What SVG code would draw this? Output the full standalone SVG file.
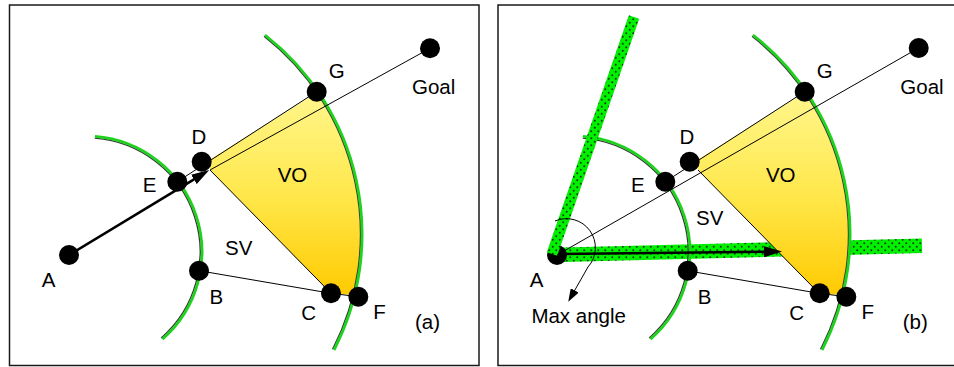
<svg xmlns="http://www.w3.org/2000/svg" width="954" height="367" viewBox="0 0 954 367">
<style>
.frame{fill:none;stroke:#1a1a1a;stroke-width:1.5}
.dot{fill:#000}
.lbl{font-family:"Liberation Sans",Arial,sans-serif;font-size:20.5px;fill:#000;text-anchor:middle}
.lbls{font-family:"Liberation Sans",Arial,sans-serif;font-size:20.5px;fill:#000}
.thin{stroke:#000;stroke-width:1;fill:none}
.arcg{fill:none;stroke:#1ed21e;stroke-width:2.8}
.arcs{fill:none;stroke:#3a3a3a;stroke-width:1.4}
.vo{fill:url(#voGrad)}
.band{fill:none;stroke:url(#dots)}
.arrow{stroke:#000;stroke-width:2.6;fill:none;marker-end:url(#head)}
</style>
<defs>
<linearGradient id="voGrad" gradientUnits="userSpaceOnUse" x1="0" y1="92" x2="0" y2="296">
<stop offset="0" stop-color="#FFF68C"/>
<stop offset="0.5" stop-color="#FFE84C"/>
<stop offset="1" stop-color="#FFCA00"/>
</linearGradient>
<pattern id="dots" width="7" height="7" patternUnits="userSpaceOnUse">
<rect width="7" height="7" fill="#00f000"/>
<circle cx="1.75" cy="1.75" r="1" fill="#0b3b0b"/>
<circle cx="5.25" cy="5.25" r="1" fill="#0b3b0b"/>
</pattern>
<marker id="head" markerUnits="userSpaceOnUse" markerWidth="18" markerHeight="11" refX="4" refY="5.5" orient="auto">
<path d="M0,0 L18,5.5 L0,11 Z" fill="#000"/>
</marker>
<marker id="headS" markerUnits="userSpaceOnUse" markerWidth="13" markerHeight="9" refX="3" refY="4.5" orient="auto">
<path d="M0,0 L13,4.5 L0,9 Z" fill="#000"/>
</marker>
</defs>
<rect x="0" y="0" width="954" height="367" fill="#fff"/>

<!-- Panel (a) -->
<g id="panel-a">
<rect class="frame" x="9.5" y="5" width="469.5" height="360.5"/>
<path id="a-VO-region" class="vo" d="M210,159.5 L318,91.7 A252.9,252.9 0 0 1 354.7,295 L331,293.3 L210,170 Z"/>
<g id="a-arcs">
<path class="arcs" d="M94.76,138.14 A114.2,114.2 0 0 1 161.22,337.92"/>
<path class="arcg" d="M94.9,136.34 A116,116 0 0 1 162.41,339.28"/>
<path class="arcs" d="M264.02,36.25 A251.3,251.3 0 0 1 332.61,349.27"/>
<path class="arcg" d="M265,35 A252.9,252.9 0 0 1 334.03,350"/>
</g>
<g id="a-connectors">
<line class="thin" x1="177.3" y1="181.7" x2="316.7" y2="91.7"/>
<line class="thin" x1="210" y1="170" x2="331" y2="293.3"/>
<line class="thin" x1="199" y1="270.7" x2="331" y2="293.3"/>
<line class="thin" x1="331" y1="293.3" x2="358.3" y2="296.7"/>
<line class="thin" x1="210" y1="170" x2="430" y2="48.3"/>
<line class="arrow" x1="69" y1="255" x2="197.3" y2="177.3"/>
</g>
<g id="a-A"><circle class="dot" cx="69" cy="255" r="10"/><text class="lbl" x="48.7" y="287.3">A</text></g>
<g id="a-E"><circle class="dot" cx="177.3" cy="181.7" r="10"/><text class="lbl" x="149.5" y="191.7">E</text></g>
<g id="a-D"><circle class="dot" cx="201.7" cy="161.7" r="10"/><text class="lbl" x="199" y="144.3">D</text></g>
<g id="a-G"><circle class="dot" cx="316.7" cy="91.7" r="10"/><text class="lbl" x="336.8" y="77.7">G</text></g>
<g id="a-Goal"><circle class="dot" cx="430" cy="48.3" r="10"/><text class="lbls" x="412" y="94">Goal</text></g>
<g id="a-B"><circle class="dot" cx="199" cy="270.7" r="10"/><text class="lbl" x="216.3" y="304">B</text></g>
<g id="a-C"><circle class="dot" cx="331" cy="293.3" r="10"/><text class="lbl" x="308.7" y="320">C</text></g>
<g id="a-F"><circle class="dot" cx="358.3" cy="296.7" r="10"/><text class="lbl" x="379.5" y="319.3">F</text></g>
<text class="lbl" x="292.5" y="181.7">VO</text>
<text class="lbl" x="238.7" y="255">SV</text>
<text class="lbl" x="427.5" y="329">(a)</text>
</g>

<!-- Panel (b) -->
<g id="panel-b" transform="translate(488,0)">
<rect class="frame" x="10" y="5" width="470" height="360.5"/>
<line id="b-band-right" class="band" stroke-width="14.5" x1="75" y1="254.8" x2="434" y2="245.8"/>
<path id="b-VO-region" class="vo" d="M210,159.5 L318,91.7 A252.9,252.9 0 0 1 354.7,295 L331,293.3 L210,170 Z"/>
<g id="b-arcs">
<path class="arcs" d="M94.76,138.14 A114.2,114.2 0 0 1 161.22,337.92"/>
<path class="arcg" d="M94.9,136.34 A116,116 0 0 1 162.41,339.28"/>
<path class="arcs" d="M264.02,36.25 A251.3,251.3 0 0 1 332.61,349.27"/>
<path class="arcg" d="M265,35 A252.9,252.9 0 0 1 334.03,350"/>
</g>
<g id="b-A"><circle class="dot" cx="69" cy="255" r="10"/><text class="lbl" x="48.7" y="287.3">A</text></g>
<line id="b-band-left" class="band" stroke-width="11" x1="64" y1="254" x2="146" y2="17"/>
<g id="b-connectors">
<line class="thin" x1="177.3" y1="181.7" x2="316.7" y2="91.7"/>
<line class="thin" x1="210" y1="170" x2="331" y2="293.3"/>
<line class="thin" x1="199" y1="270.7" x2="331" y2="293.3"/>
<line class="thin" x1="331" y1="293.3" x2="358.3" y2="296.7"/>
<line class="thin" x1="69" y1="255" x2="430" y2="48.3"/>
<line class="arrow" x1="72" y1="254" x2="280" y2="251.66"/>
<path class="thin" d="M67,221 A29,29 0 0 1 100,267 L85.2,293" marker-end="url(#headS)"/>
</g>
<g id="b-E"><circle class="dot" cx="177.3" cy="181.7" r="10"/><text class="lbl" x="149.8" y="191.7">E</text></g>
<g id="b-D"><circle class="dot" cx="201.7" cy="161.7" r="10"/><text class="lbl" x="199" y="144.3">D</text></g>
<g id="b-G"><circle class="dot" cx="316.7" cy="91.7" r="10"/><text class="lbl" x="336.7" y="77.7">G</text></g>
<g id="b-Goal"><circle class="dot" cx="430.7" cy="48" r="10"/><text class="lbls" x="412.3" y="94">Goal</text></g>
<g id="b-B"><circle class="dot" cx="199.7" cy="270.7" r="10"/><text class="lbl" x="216.5" y="304">B</text></g>
<g id="b-C"><circle class="dot" cx="331.7" cy="293.3" r="10"/><text class="lbl" x="308.7" y="320">C</text></g>
<g id="b-F"><circle class="dot" cx="358.3" cy="296.7" r="10"/><text class="lbl" x="379.8" y="319.3">F</text></g>
<text class="lbl" x="292.7" y="181.7">VO</text>
<text class="lbl" x="221.8" y="225">SV</text>
<text class="lbl" x="90.7" y="323.3">Max angle</text>
<text class="lbl" x="427.3" y="329">(b)</text>
</g>
</svg>
